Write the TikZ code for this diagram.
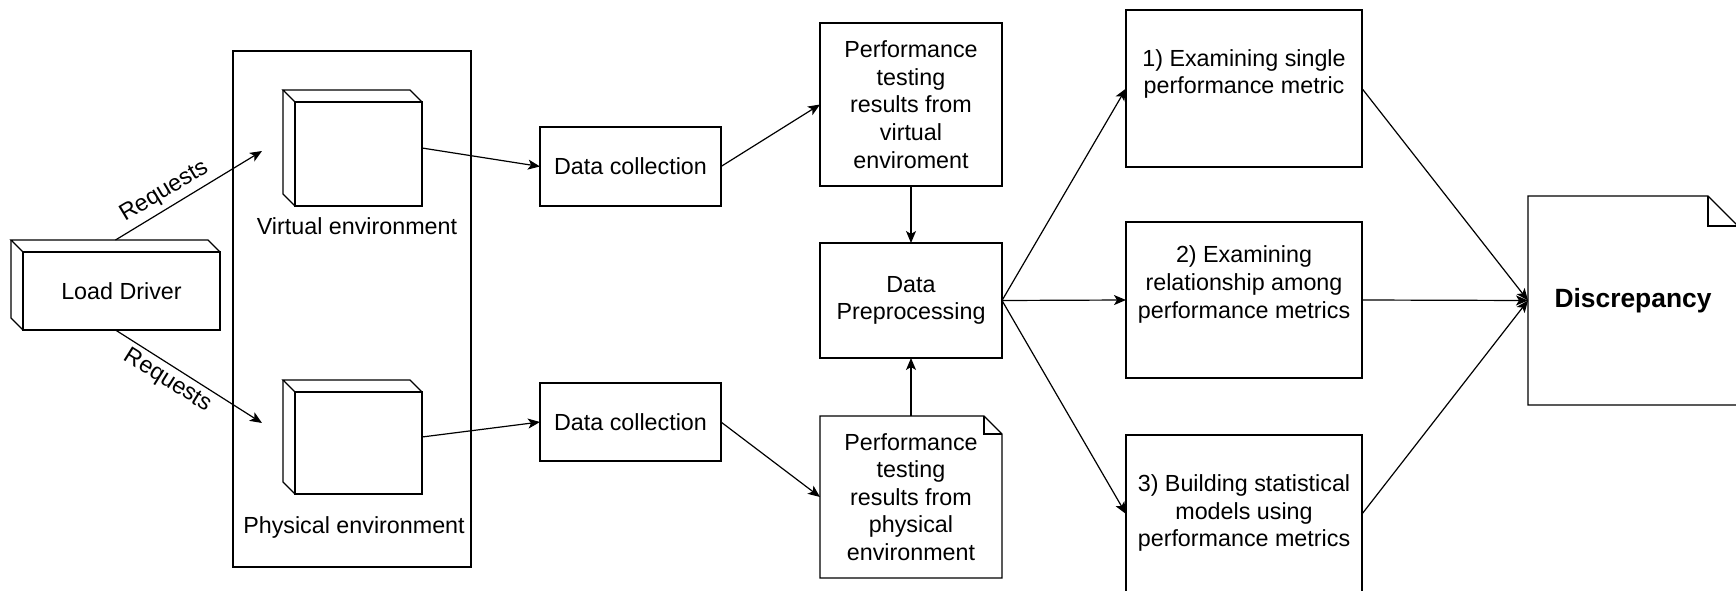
\documentclass[tikz,border=0pt]{standalone}
\usepackage{fontspec}
\setmainfont{Liberation Sans}
\usetikzlibrary{arrows.meta}
\tikzset{
  every node/.style={font=\fontsize{23.3pt}{27.6pt}\selectfont},
  shp/.style={draw, line width=1.2pt, inner sep=0pt, outer sep=0pt, align=center},
  plain/.style={draw=none, inner sep=0pt, outer sep=0pt, align=center},
  txt/.style={align=center, inner sep=0pt},
  conn/.style={line width=1.2pt, -{Stealth[length=12pt,width=10pt,inset=3pt]}},
  outl/.style={line width=1.3pt, line join=miter, draw=black},
}
\newcommand{\cubeshape}[2]{%
  \draw[outl] ([xshift=#2,yshift=-#2]#1.north west) rectangle (#1.south east);
  \draw[outl] ([xshift=#2,yshift=-#2]#1.north west) -- (#1.north west)
     -- ([xshift=-#2]#1.north east) -- ([yshift=-#2]#1.north east);
  \draw[outl] (#1.north west) -- ([yshift=#2]#1.south west) -- ([xshift=#2]#1.south west);
}
\newcommand{\noteshape}[2]{%
  \draw[outl] (#1.north west) -- ([xshift=-#2]#1.north east) -- ([yshift=-#2]#1.north east)
     -- (#1.south east) -- (#1.south west) -- cycle;
  \draw[outl] ([xshift=-#2]#1.north east) -- ([xshift=-#2,yshift=-#2]#1.north east) -- ([yshift=-#2]#1.north east);
}
\begin{document}
\begin{tikzpicture}[x=1pt,y=-1pt]
\useasboundingbox (0,0) rectangle (1736,591);

% container of environments
\node[shp, minimum width=238pt, minimum height=516pt] (env) at (352,309) {};

% load driver (cube)
\node[plain, minimum width=209pt, minimum height=90pt] (ld) at (115.5,285) {};
\cubeshape{ld}{12pt}
\node[txt] (ldt) at (121.5,291) {Load Driver};

% virtual / physical cubes
\node[plain, minimum width=139pt, minimum height=116pt] (vc) at (352.5,148) {};
\cubeshape{vc}{12pt}
\node[txt] (vl) at (357,226) {Virtual environment};
\node[plain, minimum width=139pt, minimum height=114pt] (pc) at (352.5,437) {};
\cubeshape{pc}{12pt}
\node[txt] (pl) at (354,527) {Physical environment};

\coordinate (vin) at (262,151);
\coordinate (pin) at (262,423);

% data collection
\node[shp, minimum width=181pt, minimum height=79pt] (dc1) at (630.5,166.5) {Data collection};
\node[shp, minimum width=181pt, minimum height=78pt] (dc2) at (630.5,422) {Data collection};

% results + preprocessing
\node[shp, minimum width=182pt, minimum height=163pt] (pv) at (911,104.5)
  {Performance\\testing\\results from\\virtual\\enviroment};
\node[shp, minimum width=182pt, minimum height=115pt] (dp) at (911,300.5)
  {Data\\Preprocessing};
\node[plain, minimum width=182pt, minimum height=162pt] (pp) at (911,497)
  {Performance\\testing\\results from\\physical\\environment};
\noteshape{pp}{18pt}

% analysis boxes
\node[shp, minimum width=236pt, minimum height=157pt] (b1) at (1244,88.5) {};
\node[txt] (b1t) at ([yshift=14.5pt]b1.center) {1) Examining single\\performance metric};
\node[shp, minimum width=236pt, minimum height=156pt] (b2) at (1244,300) {};
\node[txt] (b2t) at ([yshift=15.5pt]b2.center) {2) Examining\\relationship among\\performance metrics};
\node[shp, minimum width=236pt, minimum height=158pt] (b3) at (1244,514) {};
\node[txt] (b3t) at ([yshift=1pt]b3.center) {3) Building statistical\\models using\\performance metrics};

% discrepancy
\node[plain, minimum width=210pt, minimum height=209pt] (disc) at (1633,300.5)
  {\fontsize{26.4pt}{30pt}\selectfont\bfseries Discrepancy};
\noteshape{disc}{30pt}

% connectors
\draw[conn] (ld.north) -- node[pos=0.39, rotate=31, anchor=south, inner sep=5pt] {Requests} (vin);
\draw[conn] (ld.south) -- node[pos=0.41, rotate=-32, anchor=north, inner sep=4pt] {Requests} (pin);
\draw[conn] (vc.east) -- (dc1.west);
\draw[conn] (pc.east) -- (dc2.west);
\draw[conn] (dc1.east) -- (pv.west);
\draw[conn] (dc2.east) -- (pp.west);
\draw[conn] (pv.south) -- (dp.north);
\draw[conn] (pp.north) -- (dp.south);
\draw[conn] (dp.east) -- (b1.west);
\draw[conn] (dp.east) -- (b2.west);
\draw[conn] (dp.east) -- (b3.west);
\draw[conn] (b1.east) -- (disc.west);
\draw[conn] (b2.east) -- (disc.west);
\draw[conn] (b3.east) -- (disc.west);
\end{tikzpicture}
\end{document}
